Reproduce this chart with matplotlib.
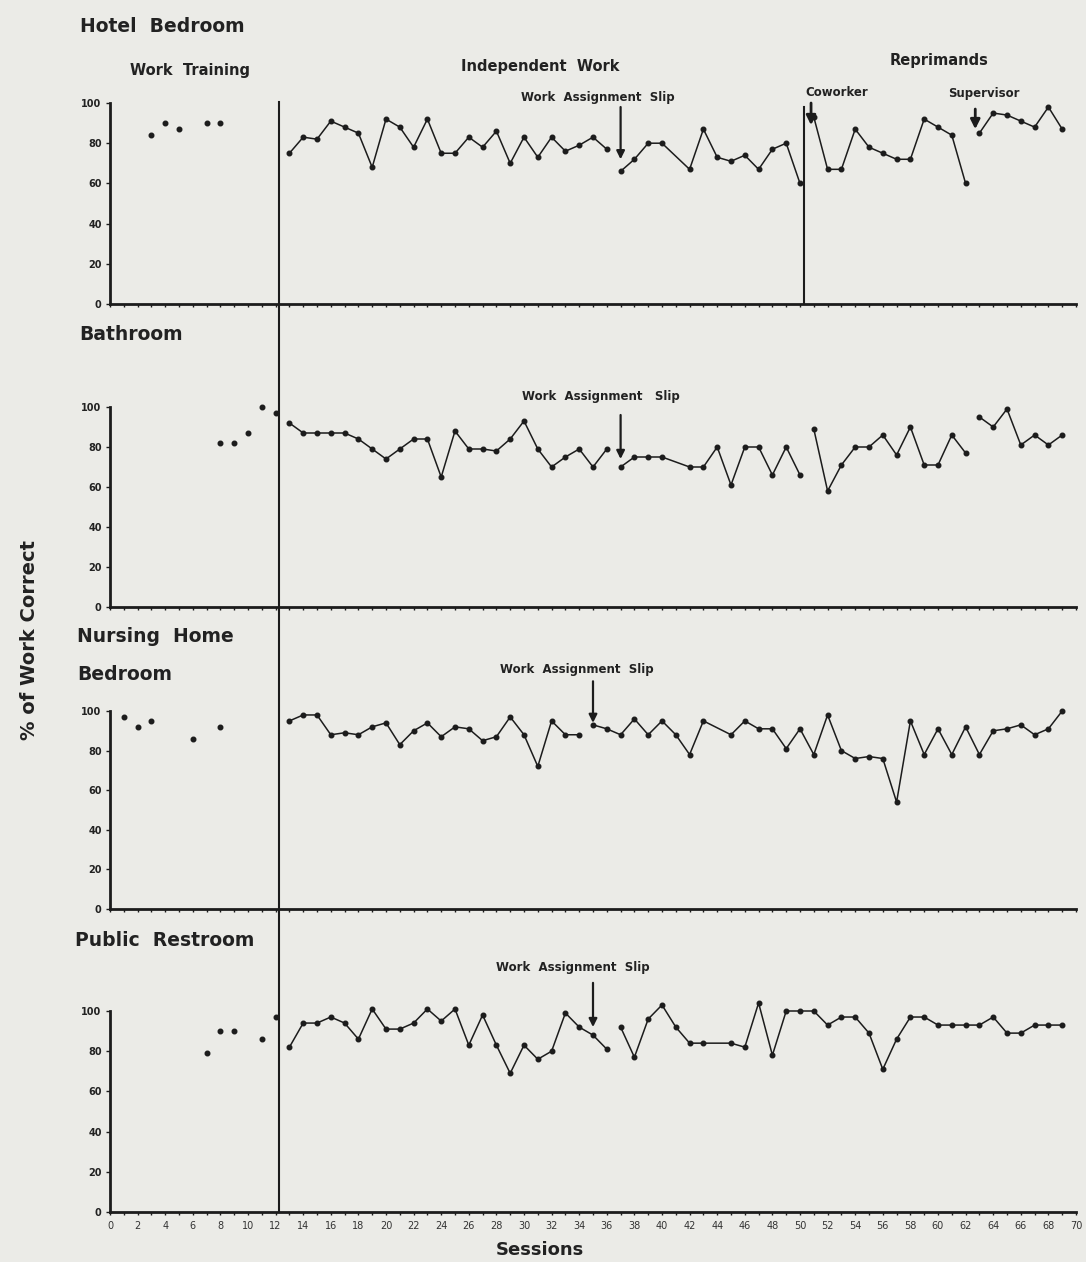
import matplotlib
matplotlib.use("Agg")
import matplotlib.pyplot as plt
from matplotlib.lines import Line2D
from matplotlib import transforms

plt.rcParams['font.family'] = ['DejaVu Sans']

# ---- data (session, % correct) ----
# Hotel Bedroom
hotel_train_x = [3, 4, 5, 7, 8]
hotel_train_y = [84, 90, 87, 90, 90]
hotel_ind1_x = [13, 14, 15, 16, 17, 18, 19, 20, 21, 22, 23, 24, 25, 26, 27, 28, 29, 30, 31, 32, 33, 34, 35, 36]
hotel_ind1_y = [75, 83, 82, 91, 88, 85, 68, 92, 88, 78, 92, 75, 75, 83, 78, 86, 70, 83, 73, 83, 76, 79, 83, 77]
hotel_ind2_x = [37, 38, 39, 40, 42, 43, 44, 45, 46, 47, 48, 49, 50]
hotel_ind2_y = [66, 72, 80, 80, 67, 87, 73, 71, 74, 67, 77, 80, 60]
hotel_cow_x = [51, 52, 53, 54, 55, 56, 57, 58, 59, 60, 61, 62]
hotel_cow_y = [93, 67, 67, 87, 78, 75, 72, 72, 92, 88, 84, 60]
hotel_sup_x = [63, 64, 65, 66, 67, 68, 69]
hotel_sup_y = [85, 95, 94, 91, 88, 98, 87]

# Bathroom
bath_train_x = [8, 9, 10, 11, 12]
bath_train_y = [82, 82, 87, 100, 97]
bath_ind1_x = [13, 14, 15, 16, 17, 18, 19, 20, 21, 22, 23, 24, 25, 26, 27, 28, 29, 30, 31, 32, 33, 34, 35, 36]
bath_ind1_y = [92, 87, 87, 87, 87, 84, 79, 74, 79, 84, 84, 65, 88, 79, 79, 78, 84, 93, 79, 70, 75, 79, 70, 79]
bath_ind2_x = [37, 38, 39, 40, 42, 43, 44, 45, 46, 47, 48, 49, 50]
bath_ind2_y = [70, 75, 75, 75, 70, 70, 80, 61, 80, 80, 66, 80, 66]
bath_ind3_x = [51, 52, 53, 54, 55, 56, 57, 58, 59, 60, 61, 62]
bath_ind3_y = [89, 58, 71, 80, 80, 86, 76, 90, 71, 71, 86, 77]
bath_ind4_x = [63, 64, 65, 66, 67, 68, 69]
bath_ind4_y = [95, 90, 99, 81, 86, 81, 86]

# Nursing Home Bedroom
nurse_train_x = [1, 2, 3, 6, 8]
nurse_train_y = [97, 92, 95, 86, 92]
nurse_ind1_x = [13, 14, 15, 16, 17, 18, 19, 20, 21, 22, 23, 24, 25, 26, 27, 28, 29, 30, 31, 32, 33, 34]
nurse_ind1_y = [95, 98, 98, 88, 89, 88, 92, 94, 83, 90, 94, 87, 92, 91, 85, 87, 97, 88, 72, 95, 88, 88]
nurse_ind2_x = [35, 36, 37, 38, 39, 40, 41, 42, 43, 45, 46, 47, 48, 49, 50, 51, 52, 53, 54, 55, 56, 57,
                58, 59, 60, 61, 62, 63, 64, 65, 66, 67, 68, 69]
nurse_ind2_y = [93, 91, 88, 96, 88, 95, 88, 78, 95, 88, 95, 91, 91, 81, 91, 78, 98, 80, 76, 77, 76, 54,
                95, 78, 91, 78, 92, 78, 90, 91, 93, 88, 91, 100]

# Public Restroom
rest_train_x = [7, 8, 9, 11, 12]
rest_train_y = [79, 90, 90, 86, 97]
rest_ind1_x = [13, 14, 15, 16, 17, 18, 19, 20, 21, 22, 23, 24, 25, 26, 27, 28, 29, 30, 31, 32, 33, 34, 35, 36]
rest_ind1_y = [82, 94, 94, 97, 94, 86, 101, 91, 91, 94, 101, 95, 101, 83, 98, 83, 69, 83, 76, 80, 99, 92, 88, 81]
rest_ind2_x = [37, 38, 39, 40, 41, 42, 43, 45, 46, 47, 48, 49, 50, 51, 52, 53, 54, 55, 56, 57, 58, 59,
               60, 61, 62, 63, 64, 65, 66, 67, 68, 69]
rest_ind2_y = [92, 77, 96, 103, 92, 84, 84, 84, 82, 104, 78, 100, 100, 100, 93, 97, 97, 89, 71, 86, 97, 97,
               93, 93, 93, 93, 97, 89, 89, 93, 93, 93]

x_ticks = list(range(0, 71, 2))
y_ticks = [0, 20, 40, 60, 80, 100]

INK = '#1c1c1c'
TXT = '#222222'
PAPER = '#ebebe7'
W, H = 1086, 1262


def fx(px):
    return px / W


def fy(py):
    return 1 - py / H


fig = plt.figure(figsize=(W / 100, H / 100), dpi=100, facecolor=PAPER)

# panel pixel frames: (y at 0, y at 100)
frames = [(304, 103), (607, 407), (909, 711), (1212, 1011)]
x_left, x_right = 110, 1076

axes = []
for i, (y0, y100) in enumerate(frames):
    ax = fig.add_axes([fx(x_left), fy(y0), fx(x_right) - fx(x_left), (y0 - y100) / H])
    ax.set_facecolor('none')
    ax.set_xlim(0, 70)
    ax.set_ylim(0, 100)
    for s in ['top', 'right']:
        ax.spines[s].set_visible(False)
    for s in ['left', 'bottom']:
        ax.spines[s].set_linewidth(2.0)
        ax.spines[s].set_color(INK)
    ax.set_yticks(y_ticks)
    ax.set_yticklabels([str(v) for v in y_ticks], fontsize=7, fontweight='bold', color=TXT)
    ax.set_xticks(x_ticks)
    ax.set_xticks(range(0, 71), minor=True)
    ax.tick_params(axis='y', length=3, width=1, pad=3, color=INK)
    ax.tick_params(axis='x', which='both', length=2.5, width=1, color=INK)
    if i < 3:
        ax.set_xticklabels([])
    else:
        ax.set_xticklabels([str(v) for v in x_ticks], fontsize=7, color='#333333')
        ax.tick_params(axis='x', pad=4)
    axes.append(ax)

ax1, ax2, ax3, ax4 = axes


def dots(ax, xs, ys):
    ax.plot(xs, ys, 'o', ms=3.3, color=INK, clip_on=False)


def seg(ax, xs, ys):
    ax.plot(xs, ys, '-o', ms=3.3, lw=1.1, color=INK, clip_on=False)


dots(ax1, hotel_train_x, hotel_train_y)
for xs, ys in [(hotel_ind1_x, hotel_ind1_y), (hotel_ind2_x, hotel_ind2_y),
               (hotel_cow_x, hotel_cow_y), (hotel_sup_x, hotel_sup_y)]:
    seg(ax1, xs, ys)

dots(ax2, bath_train_x, bath_train_y)
for xs, ys in [(bath_ind1_x, bath_ind1_y), (bath_ind2_x, bath_ind2_y),
               (bath_ind3_x, bath_ind3_y), (bath_ind4_x, bath_ind4_y)]:
    seg(ax2, xs, ys)

dots(ax3, nurse_train_x, nurse_train_y)
for xs, ys in [(nurse_ind1_x, nurse_ind1_y), (nurse_ind2_x, nurse_ind2_y)]:
    seg(ax3, xs, ys)

dots(ax4, rest_train_x, rest_train_y)
for xs, ys in [(rest_ind1_x, rest_ind1_y), (rest_ind2_x, rest_ind2_y)]:
    seg(ax4, xs, ys)

# phase change lines
trans = transforms.blended_transform_factory(ax4.transData, fig.transFigure)
fig.add_artist(Line2D([12.25, 12.25], [fy(102), fy(1212)], transform=trans, color=INK, lw=1.5))
ax1.plot([50.3, 50.3], [0, 98], color=INK, lw=1.5)


def arrow(ax, x, tail, tip, scale=12, lw=1.6):
    ax.annotate('', xy=(x, tip), xytext=(x, tail), annotation_clip=False,
                arrowprops=dict(arrowstyle='-|>', lw=lw, color=INK, mutation_scale=scale,
                                shrinkA=0, shrinkB=0))


arrow(ax1, 37, 98, 72)
arrow(ax2, 37, 96, 74)
arrow(ax3, 35, 115, 94)
arrow(ax4, 35, 114, 92)
arrow(ax1, 50.8, 100, 89, scale=14, lw=2)
arrow(ax1, 62.7, 97, 87, scale=14, lw=2)

# text
title_kw = dict(fontsize=13.5, fontweight='bold', color=TXT, ha='left', va='center')
fig.text(fx(80), fy(27), 'Hotel  Bedroom', **title_kw)
fig.text(fx(79), fy(335), 'Bathroom', **title_kw)
fig.text(fx(77), fy(637), 'Nursing  Home', **title_kw)
fig.text(fx(77), fy(675), 'Bedroom', **title_kw)
fig.text(fx(75), fy(940), 'Public  Restroom', **title_kw)

phase_kw = dict(fontsize=10.5, fontweight='bold', color=TXT, ha='center', va='center')
fig.text(fx(190), fy(70), 'Work  Training', **phase_kw)
fig.text(fx(540), fy(66), 'Independent  Work', **phase_kw)
fig.text(fx(939), fy(60), 'Reprimands', **phase_kw)

slip_kw = dict(fontsize=8.5, fontweight='bold', color=TXT, ha='center', va='center')
fig.text(fx(598), fy(98), 'Work  Assignment  Slip', **slip_kw)
fig.text(fx(601), fy(397), 'Work  Assignment   Slip', **slip_kw)
fig.text(fx(577), fy(669), 'Work  Assignment  Slip', **slip_kw)
fig.text(fx(573), fy(967), 'Work  Assignment  Slip', **slip_kw)
fig.text(fx(837), fy(93), 'Coworker', **slip_kw)
fig.text(fx(984), fy(94), 'Supervisor', **slip_kw)

fig.text(fx(30), fy(640), '% of Work Correct', rotation=90, fontsize=14, fontweight='bold',
         color=TXT, ha='center', va='center')
fig.text(fx(540), fy(1250), 'Sessions', fontsize=13, fontweight='bold', color=TXT,
         ha='center', va='center')

fig.savefig('out.png', dpi=100, facecolor=PAPER)
